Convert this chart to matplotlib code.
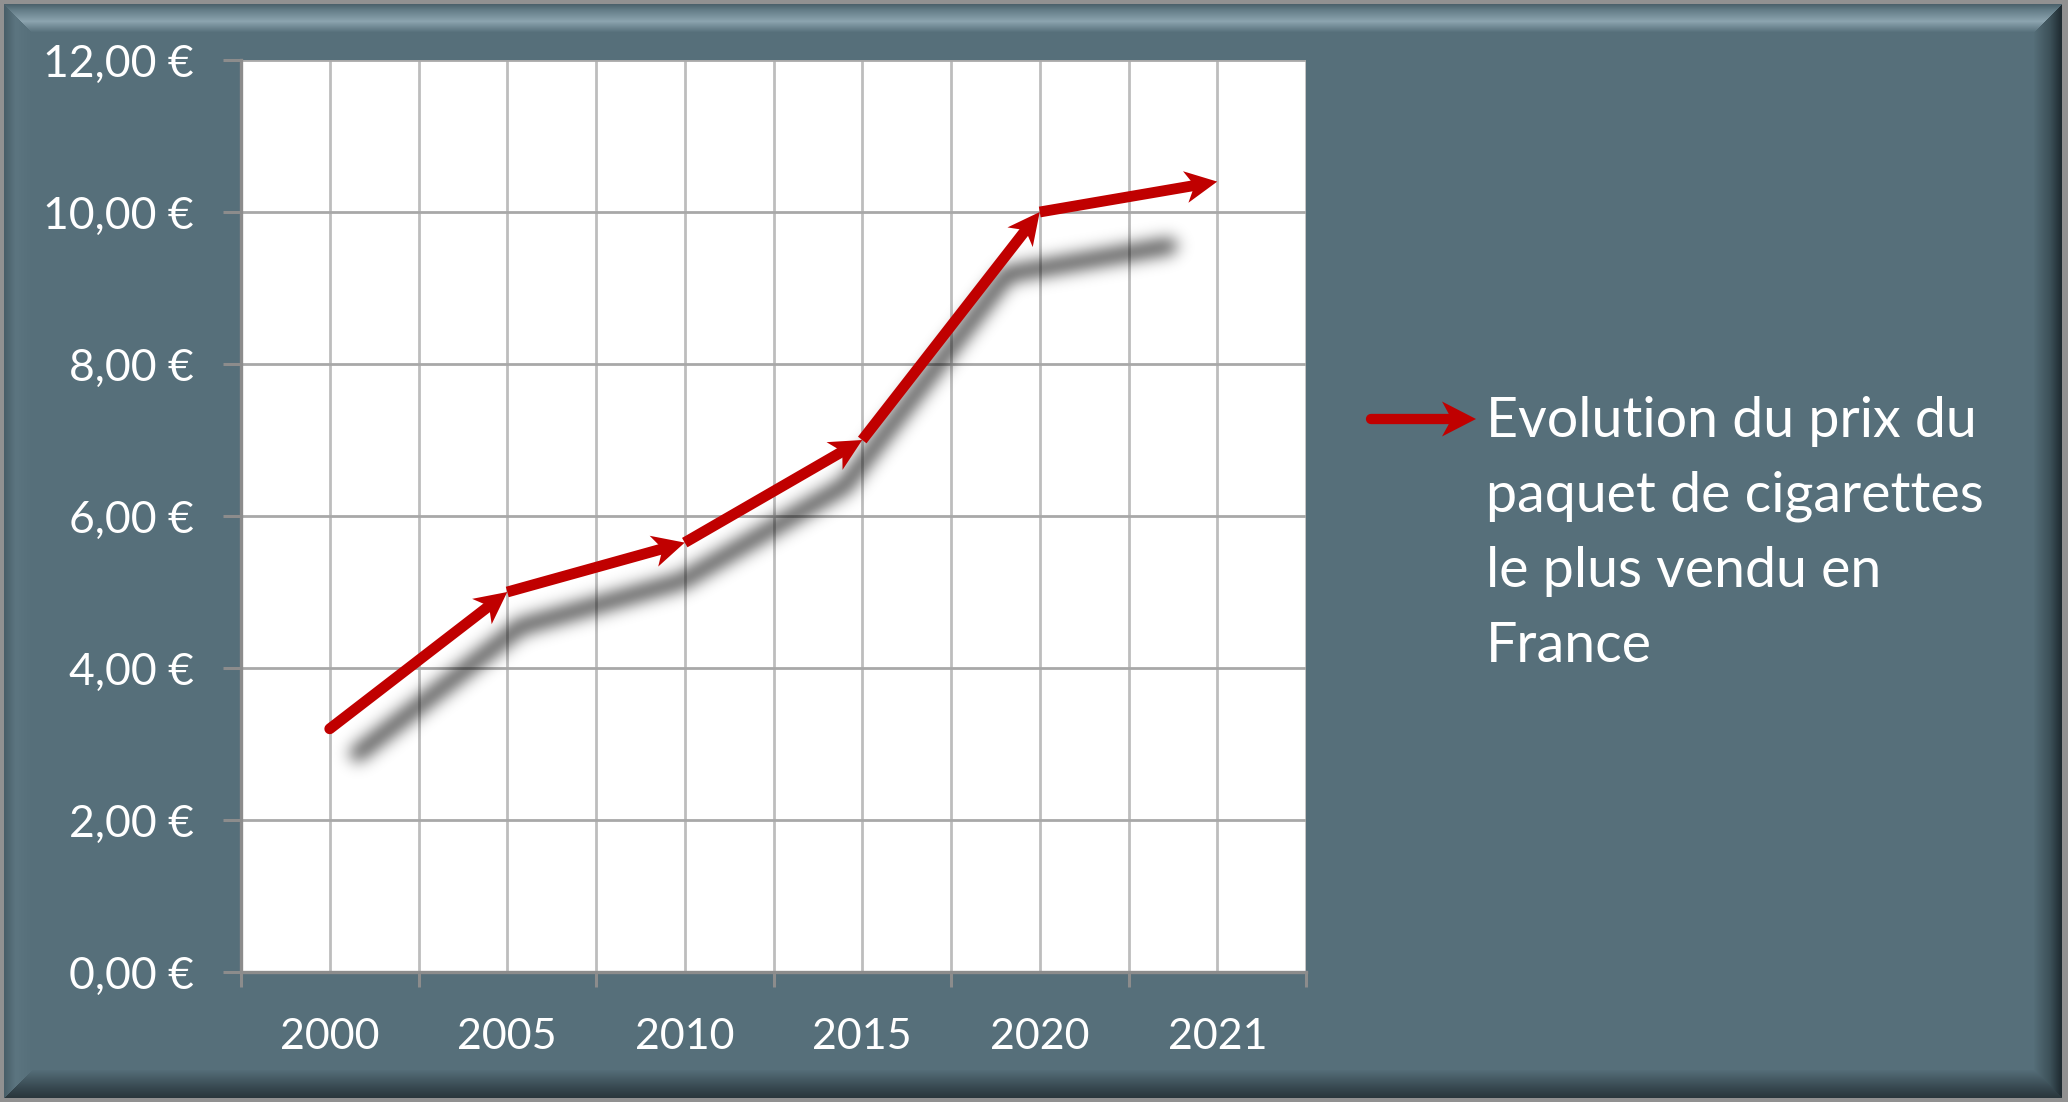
import numpy as np
import matplotlib
matplotlib.use("Agg")
import matplotlib.pyplot as plt
from matplotlib.transforms import Affine2D, ScaledTranslation
from matplotlib.patches import Polygon
from matplotlib.lines import Line2D
from matplotlib.ticker import FixedLocator, FixedFormatter, NullFormatter

# ---------------- data ----------------
years = ["2000", "2005", "2010", "2015", "2020", "2021"]
prices = [3.20, 5.00, 5.65, 7.00, 10.00, 10.40]
y_ticks = [0, 2, 4, 6, 8, 10, 12]
legend_lines = ["Evolution du prix du", "paquet de cigarettes",
                "le plus vendu en", "France"]

# ---------------- style ----------------
W, H, DPI = 2068, 1102, 100
RED = "#C00000"
FONT = "Lato"
plt.rcParams["font.family"] = [FONT, "DejaVu Sans"]

fig = plt.figure(figsize=(W / DPI, H / DPI), dpi=DPI)

# ---------------- bevelled background ----------------
base = np.array([86, 111, 122], float)
grey = np.array([145, 145, 145], float)
bw = 28
yy, xx = np.mgrid[0:H, 0:W]
dt = yy - 4
dl = xx - 4
db = (H - 1 - 4) - yy
dr = (W - 1 - 6) - xx
d = np.stack([dt, dl, db, dr])
m = d.min(0)
edge = d.argmin(0)
t = np.clip(m / bw, 0, 1)
img = np.empty((H, W, 3))
img[:] = base
profiles = {
    0: ([0, 0.2, 0.6, 1.0], [(75, 97, 107), (100, 125, 136), (140, 164, 175), base]),
    1: ([0, 0.4, 1.0], [(72, 94, 104), (92, 117, 128), base]),
    2: ([0, 0.35, 1.0], [(42, 55, 61), (55, 72, 80), base]),
    3: ([0, 0.4, 1.0], [(30, 42, 48), (60, 80, 88), base]),
}
for e, (stops, cols) in profiles.items():
    cols = np.array(cols, float)
    mask = (edge == e) & (m >= 0) & (m < bw)
    for c in range(3):
        ch = img[..., c]
        ch[mask] = np.interp(t[mask], stops, cols[:, c])
img[m < 0] = grey
bg = fig.add_axes([0, 0, 1, 1])
bg.imshow(img.astype(np.uint8), aspect="auto", interpolation="nearest")
bg.axis("off")

# ---------------- main axes ----------------
L, R, T, B = 241, 1306, 60, 972
ax = fig.add_axes([L / W, (H - B) / H, (R - L) / W, (B - T) / H])
ax.set_facecolor("white")
n = len(years)
x = np.arange(n)
ax.set_xlim(-0.5, n - 0.5)
ax.set_ylim(0, 12)

ax.xaxis.set_major_locator(FixedLocator(np.arange(n + 1) - 0.5))
ax.xaxis.set_minor_locator(FixedLocator(x))
ax.xaxis.set_major_formatter(NullFormatter())
ax.xaxis.set_minor_formatter(FixedFormatter(years))
ax.tick_params(axis="x", which="major", length=11, width=2.2, color="#8c8c8c",
               direction="out")
ax.tick_params(axis="x", which="minor", length=0, pad=33, labelsize=31,
               labelcolor="white")
ax.yaxis.set_major_locator(FixedLocator(y_ticks))
ax.yaxis.set_major_formatter(FixedFormatter(
    [f"{v:.2f} €".replace(".", ",") for v in y_ticks]))
ax.tick_params(axis="y", length=13, width=2.2, color="#8c8c8c", pad=21,
               labelsize=32, labelcolor="white")
ax.grid(which="both", axis="x", color="#bdbdbd", lw=2.0)
ax.grid(which="major", axis="y", color="#a8a8a8", lw=2.0)
ax.set_axisbelow(True)
for s in ["top", "right"]:
    ax.spines[s].set_visible(False)
for s in ["left", "bottom"]:
    ax.spines[s].set_color("#8c8c8c")
    ax.spines[s].set_linewidth(2.4)


# ---------------- blurred perspective shadow ----------------
class ShadowFilter:
    def __init__(self, sigma_px, alpha):
        self.sigma = sigma_px
        self.alpha = alpha

    def __call__(self, im, dpi):
        pad = int(3 * self.sigma) + 2
        a = np.pad(im[:, :, 3], pad)
        r = int(3 * self.sigma)
        k = np.exp(-0.5 * (np.arange(-r, r + 1) / self.sigma) ** 2)
        k /= k.sum()
        a = np.apply_along_axis(lambda v: np.convolve(v, k, mode="same"), 0, a)
        a = np.apply_along_axis(lambda v: np.convolve(v, k, mode="same"), 1, a)
        out = np.zeros((a.shape[0], a.shape[1], 4))
        out[..., 3] = np.clip(a * self.alpha, 0, 1)
        return out, -pad, -pad


cx, cy, kx, ky = 1.84, -1.35, 0.915, 0.928   # shadow perspective
sx = cx + kx * (x - cx)
sy = cy + ky * (np.array(prices) + 1.35)
shadow, = ax.plot(sx, sy, color="black", lw=11, solid_capstyle="round",
                  solid_joinstyle="round", zorder=3)
shadow.set_agg_filter(ShadowFilter(8, 0.72))
shadow.set_rasterized(True)

# ---------------- red arrow line ----------------
HL, HW, NOTCH = 32, 16, 0.72  # arrow head in pixels
head = np.array([[0, 0], [-HL, HW], [-NOTCH * HL, 0], [-HL, -HW]]) / DPI
pts = ax.transData.transform(np.column_stack([x, prices]))
inv = ax.transData.inverted()
for i in range(n - 1):
    dvec = pts[i + 1] - pts[i]
    u = dvec / np.hypot(*dvec)
    end = inv.transform(pts[i + 1] - u * HL * 0.6)
    ax.plot([x[i], end[0]], [prices[i], end[1]], color=RED, lw=7.8,
            solid_capstyle="round" if i == 0 else "butt", zorder=4)
    ang = np.arctan2(dvec[1], dvec[0])
    tr = (Affine2D().rotate(ang) + fig.dpi_scale_trans +
          ScaledTranslation(x[i + 1], prices[i + 1], ax.transData))
    ax.add_patch(Polygon(head, closed=True, transform=tr, fc=RED, ec="none",
                         zorder=5))

# ---------------- legend ----------------
ly = 1 - 419 / H
lx0, lx1 = 1371 / W, 1476 / W
LHL, LHW = 34, 17.5
fig.add_artist(Line2D([lx0, lx1 - LHL * 0.6 / W], [ly, ly], transform=fig.transFigure,
                      color=RED, lw=7.4, solid_capstyle="round"))
lhead = np.array([[0, 0], [-LHL, LHW], [-NOTCH * LHL, 0], [-LHL, -LHW]]) / DPI
fig.add_artist(Polygon(lhead, closed=True, fc=RED, ec="none",
                       transform=fig.dpi_scale_trans +
                       ScaledTranslation(lx1, ly, fig.transFigure)))
for j, line in enumerate(legend_lines):
    fig.text(1486 / W, 1 - (437 + 75 * j) / H, line, fontsize=40, color="white",
             va="baseline", ha="left")

fig.savefig("out.png", dpi=DPI)
